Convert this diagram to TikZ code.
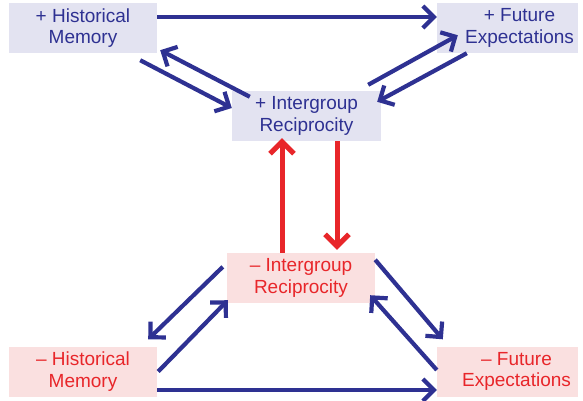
\documentclass[tikz,border=0pt]{standalone}
\usepackage{fontspec}
\setmainfont{Liberation Sans}
\usepackage{xcolor}
\usetikzlibrary{arrows.meta, positioning}

\definecolor{navy}{HTML}{2E3192}
\definecolor{posfill}{HTML}{E3E3F1}
\definecolor{negfill}{HTML}{FAE0E0}
\definecolor{negred}{HTML}{E8262A}

\tikzset{
  posbox/.style={fill=posfill, text=navy, align=center, minimum height=50pt,
    font=\fontsize{19}{21.5}\selectfont},
  negbox/.style={fill=negfill, text=negred, align=center, minimum height=50pt,
    font=\fontsize{19}{21.5}\selectfont},
  bluearrow/.style={navy, line width=4.2pt, -{Straight Barb[length=11pt, width=22pt]}},
  redarrow/.style={negred, line width=5pt, -{Straight Barb[length=12pt, width=24pt]}}
}

\begin{document}
\begin{tikzpicture}[>=Stealth, on grid]

        \useasboundingbox (-83pt,28pt) rectangle (500pt,-372pt);

        % Nodes
        \node (pHM) [posbox, minimum width=148pt] {+ Historical\\Memory};
        \node (pFE) [posbox, minimum width=141pt, right=424.5pt of pHM]
          {\hspace*{24pt}\begin{tabular}{@{}c@{}}+ Future\\Expectations\end{tabular}};
        \node (pIR) [posbox, minimum width=149pt, below right=88pt and 223.5pt of pHM] {+ Intergroup\\Reciprocity};
        \node (nIR) [negbox, minimum width=148pt, below left=162pt and 5.5pt of pIR] {– Intergroup\\Reciprocity};
        \node (nHM) [negbox, minimum width=148pt, below=343.5pt of pHM] {– Historical\\Memory};
        \node (nFE) [negbox, minimum width=141pt, below=343.5pt of pFE]
          {\hspace*{18pt}\begin{tabular}{@{}c@{}}– Future\\Expectations\end{tabular}};

        % Arrows
        \draw[bluearrow] ([yshift=11pt]pHM.east) -- ([yshift=11pt]pFE.west);
        \draw[bluearrow] ([shift={(-17pt,-7pt)}]pHM.south east) -- ([yshift=8pt]pIR.west);
        \draw[bluearrow] ([shift={(18pt,-6pt)}]pIR.north west) -- ([shift={(3pt,3pt)}]pHM.south east);
        \draw[bluearrow] ([shift={(-13pt,6pt)}]pIR.north east) -- ([shift={(21pt,18pt)}]pFE.south west);
        \draw[bluearrow] ([xshift=30pt]pFE.south west) -- ([shift={(-4pt,-11pt)}]pIR.north east);

        \draw[redarrow] ([xshift=-19pt]nIR.north) -- ([shift={(-24.5pt,3pt)}]pIR.south);
        \draw[redarrow] ([xshift=30.5pt]pIR.south) -- ([shift={(36pt,3pt)}]nIR.north);

        \draw[bluearrow] ([shift={(-4pt,-14pt)}]nIR.north west) -- ([shift={(-9pt,7pt)}]nHM.north east);
        \draw[bluearrow] ([xshift=1pt]nHM.east) -- ([shift={(1pt,3pt)}]nIR.south west);
        \draw[bluearrow] ([yshift=-7pt]nIR.north east) -- ([shift={(6pt,7pt)}]nFE.north west);
        \draw[bluearrow] ([yshift=1.5pt]nFE.west) -- ([shift={(-5pt,8pt)}]nIR.south east);
        \draw[bluearrow] ([yshift=-18.5pt]nHM.east) -- ([yshift=-18.5pt]nFE.west);

      \end{tikzpicture}
\end{document}
